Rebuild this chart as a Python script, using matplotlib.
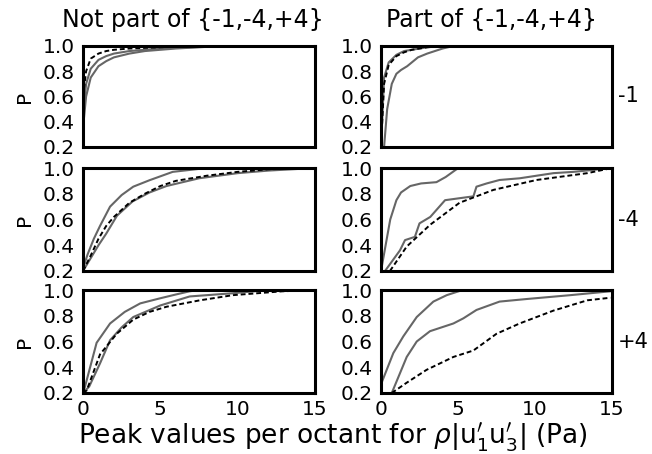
import matplotlib
matplotlib.use("Agg")
import matplotlib.pyplot as plt

plt.rcParams['font.family'] = ['DejaVu Sans']
plt.rcParams['mathtext.fontset'] = 'dejavusans'

col_titles = ["Not part of {-1,-4,+4}", "Part of {-1,-4,+4}"]
row_labels = ["-1", "-4", "+4"]
x_ticks = [0, 5, 10, 15]
y_ticks = [0.2, 0.4, 0.6, 0.8, 1.0]

# Row -1, not part
m1_np_a_x = [0, 0.2, 0.5, 1, 1.5, 2, 3, 4, 6, 9]
m1_np_a_y = [0.35, 0.6, 0.75, 0.84, 0.88, 0.91, 0.94, 0.96, 0.98, 1.0]
m1_np_b_x = [0, 0.2, 0.5, 1, 1.5, 2, 3, 5, 9]
m1_np_b_y = [0.45, 0.7, 0.82, 0.89, 0.92, 0.94, 0.96, 0.98, 1.0]
m1_np_d_x = [0, 0.2, 0.5, 1, 1.5, 2, 3, 5, 7]
m1_np_d_y = [0.6, 0.8, 0.9, 0.94, 0.96, 0.97, 0.98, 0.99, 1.0]

# Row -1, part
m1_p_a_x = [0, 0.2, 0.5, 1, 1.5, 2, 3, 4, 5]
m1_p_a_y = [0.2, 0.75, 0.87, 0.93, 0.96, 0.97, 0.99, 1.0, 1.0]
m1_p_b_x = [0.2, 0.4, 0.7, 1.0, 1.3, 1.7, 2.0, 2.4, 3, 4, 4.7]
m1_p_b_y = [0.2, 0.5, 0.7, 0.78, 0.81, 0.84, 0.87, 0.91, 0.94, 0.98, 1.0]
m1_p_d_x = [0, 0.2, 0.5, 1, 1.5, 2, 3, 4]
m1_p_d_y = [0.2, 0.7, 0.85, 0.92, 0.95, 0.97, 0.99, 1.0]

# Row -4, not part
m4_np_a_x = [0, 0.3, 0.7, 1.1, 1.75, 2.5, 3.25, 4.3, 5.8, 8, 15]
m4_np_a_y = [0.22, 0.33, 0.45, 0.55, 0.70, 0.79, 0.855, 0.905, 0.97, 1.0, 1.0]
m4_np_b_x = [0, 0.5, 1, 1.5, 2.2, 3.2, 4.3, 5.4, 7.5, 10, 12, 15]
m4_np_b_y = [0.2, 0.3, 0.4, 0.49, 0.63, 0.74, 0.81, 0.86, 0.92, 0.96, 0.98, 1.0]
m4_np_d_x = [0, 0.5, 1, 1.5, 2, 3, 4, 5, 6, 8, 10, 12, 15]
m4_np_d_y = [0.2, 0.32, 0.45, 0.55, 0.62, 0.73, 0.8, 0.86, 0.9, 0.94, 0.97, 0.99, 1.0]

# Row -4, part
m4_p_a_x = [0, 0.3, 0.6, 1.0, 1.3, 1.9, 2.6, 3.6, 4.2, 4.9, 5.1]
m4_p_a_y = [0.2, 0.4, 0.6, 0.75, 0.81, 0.86, 0.88, 0.89, 0.93, 0.99, 1.0]
m4_p_b_x = [0.26, 1.23, 1.56, 2.2, 2.5, 3.2, 4.16, 6.0, 6.2, 6.86, 7.7, 9.0, 11.2, 12.5, 15]
m4_p_b_y = [0.2, 0.36, 0.44, 0.465, 0.57, 0.62, 0.75, 0.78, 0.855, 0.88, 0.907, 0.92, 0.96, 0.97, 1.0]
m4_p_d_x = [0.58, 1.67, 3.2, 5.1, 7.3, 10.1, 13.4, 15]
m4_p_d_y = [0.2, 0.39, 0.56, 0.73, 0.83, 0.907, 0.96, 1.0]

# Row +4, not part
p4_np_a_x = [0, 0.13, 0.88, 1.75, 2.7, 3.7, 4.97, 6.0, 6.9, 7.5]
p4_np_a_y = [0.2, 0.25, 0.59, 0.74, 0.83, 0.896, 0.935, 0.965, 0.99, 1.0]
p4_np_b_x = [0, 0.4, 1.1, 1.75, 2.5, 3.25, 5.0, 6.9, 9.7, 12, 15]
p4_np_b_y = [0.2, 0.25, 0.43, 0.61, 0.71, 0.79, 0.88, 0.95, 0.975, 1.0, 1.0]
p4_np_d_x = [0, 0.24, 1.1, 2.18, 3.25, 4.3, 5.4, 7.56, 9.7, 12.9, 15]
p4_np_d_y = [0.2, 0.22, 0.5, 0.66, 0.77, 0.83, 0.87, 0.92, 0.96, 0.99, 1.0]

# Row +4, part
p4_p_a_x = [0, 0.04, 0.8, 1.45, 2.32, 3.4, 4.27, 5.3]
p4_p_a_y = [0.2, 0.28, 0.51, 0.64, 0.79, 0.91, 0.96, 1.0]
p4_p_b_x = [0.7, 1.67, 2.32, 3.18, 4.7, 5.35, 6.2, 7.7, 9.46, 12.3, 14.9]
p4_p_b_y = [0.2, 0.48, 0.6, 0.68, 0.74, 0.78, 0.845, 0.91, 0.93, 0.96, 0.99]
p4_p_d_x = [0.7, 1.67, 2.96, 4.7, 6.0, 7.5, 9.0, 11.2, 13.4, 14.9]
p4_p_d_y = [0.2, 0.28, 0.38, 0.48, 0.53, 0.66, 0.74, 0.84, 0.92, 0.94]

panels = [
    [((m1_np_a_x, m1_np_a_y), (m1_np_b_x, m1_np_b_y), (m1_np_d_x, m1_np_d_y)),
     ((m1_p_a_x, m1_p_a_y), (m1_p_b_x, m1_p_b_y), (m1_p_d_x, m1_p_d_y))],
    [((m4_np_a_x, m4_np_a_y), (m4_np_b_x, m4_np_b_y), (m4_np_d_x, m4_np_d_y)),
     ((m4_p_a_x, m4_p_a_y), (m4_p_b_x, m4_p_b_y), (m4_p_d_x, m4_p_d_y))],
    [((p4_np_a_x, p4_np_a_y), (p4_np_b_x, p4_np_b_y), (p4_np_d_x, p4_np_d_y)),
     ((p4_p_a_x, p4_p_a_y), (p4_p_b_x, p4_p_b_y), (p4_p_d_x, p4_p_d_y))],
]

W, H = 652, 454
fig = plt.figure(figsize=(W / 100, H / 100), dpi=100)

col_x = [(83, 315), (381, 612)]
row_y = [(46, 147), (168, 271), (290, 393)]

gray = "#666666"
for r in range(3):
    for c in range(2):
        x0, x1 = col_x[c]
        y0, y1 = row_y[r]
        ax = fig.add_axes([x0 / W, 1 - y1 / H, (x1 - x0) / W, (y1 - y0) / H])
        g1, g2, d = panels[r][c]
        ax.plot(g1[0], g1[1], color=gray, lw=1.5)
        ax.plot(g2[0], g2[1], color=gray, lw=1.5)
        ax.plot(d[0], d[1], color="black", lw=1.4, ls=(0, (2.5, 1.5)))
        ax.set_xlim(0, 15)
        ax.set_ylim(0.2, 1.0)
        ax.set_yticks(y_ticks)
        ax.set_yticklabels([f"{v:.1f}" for v in y_ticks])
        ax.set_xticks(x_ticks)
        if r == 2:
            ax.set_xticklabels([str(v) for v in x_ticks])
        else:
            ax.set_xticklabels([])
        ax.tick_params(length=0, labelsize=14.5, pad=5)
        ax.tick_params(axis="y", pad=6)
        for s in ax.spines.values():
            s.set_linewidth(2.2)
        if c == 0:
            ax.set_ylabel("P", fontsize=14.5, labelpad=6)
        if c == 1:
            ax.text(1.025, 0.5, row_labels[r], transform=ax.transAxes,
                    fontsize=15, va="center", ha="left")
        if r == 0:
            fig.text([193, 492][c] / W, 1 - 20 / H, col_titles[c],
                     fontsize=17, ha="center", va="center")

fig.text(333 / W, 1 - 437 / H,
         r"Peak values per octant for $\rho|\mathrm{u}_1^{\prime}\mathrm{u}_3^{\prime}|$ (Pa)",
         fontsize=19, ha="center", va="center")

fig.savefig("out.png", dpi=100)
